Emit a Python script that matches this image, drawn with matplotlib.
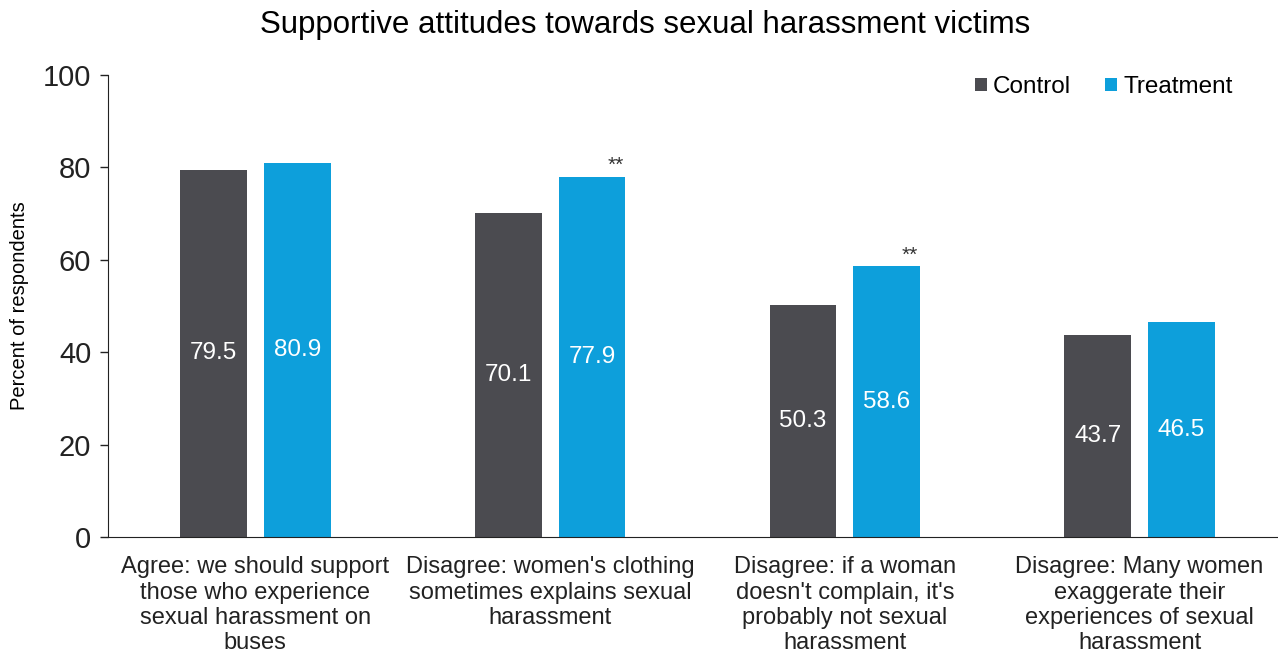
import numpy as np
import matplotlib.pyplot as plt

plt.rcParams['font.family'] = ['Liberation Sans', 'DejaVu Sans']

categories = ["Agree: we should support\nthose who experience\nsexual harassment on\nbuses",
              "Disagree: women's clothing\nsometimes explains sexual\nharassment",
              "Disagree: if a woman\ndoesn't complain, it's\nprobably not sexual\nharassment",
              "Disagree: Many women\nexaggerate their\nexperiences of sexual\nharassment"]
control = [79.5, 70.1, 50.3, 43.7]
treatment = [80.9, 77.9, 58.6, 46.5]
stars = ["", "**", "**", ""]

c_ctrl = '#4b4b50'
c_trt = '#0d9fdb'

fig = plt.figure(figsize=(12.78, 6.55), dpi=100)
ax = fig.add_axes([108/1278, 118/655, 1170/1278, 462/655])

x = np.arange(len(categories))
w = 0.227
off = 0.142
b1 = ax.bar(x - off, control, w, color=c_ctrl, label='Control')
b2 = ax.bar(x + off, treatment, w, color=c_trt, label='Treatment')

for bars in (b1, b2):
    for r in bars:
        h = r.get_height()
        ax.text(r.get_x() + r.get_width()/2, h/2, f'{h:.1f}', ha='center', va='center',
                color='white', fontsize=17.5)

for r, s in zip(b2, stars):
    if s:
        ax.text(r.get_x() + r.get_width() - 2/295, r.get_height() + 0.4, s, ha='right', va='bottom',
                fontsize=15, color='#333333')

ax.set_xlim(-0.5, 3.5 - 9/295)
ax.set_ylim(0, 100)
ax.set_yticks([0, 20, 40, 60, 80, 100])
ax.tick_params(axis='y', labelsize=21, length=6, width=1, colors='#222222', pad=6)
ax.set_xticks(x)
ax.set_xticklabels(categories, fontsize=17, linespacing=1.18)
ax.tick_params(axis='x', length=0, pad=14, colors='#222222')
for s in ('top', 'right'):
    ax.spines[s].set_visible(False)
for s in ('left', 'bottom'):
    ax.spines[s].set_color('#222222')

ax.set_ylabel('Percent of respondents', fontsize=14.5, labelpad=10)
fig.text(0.505, 0.962, 'Supportive attitudes towards sexual harassment victims',
         ha='center', va='center', fontsize=22.5)

ax.legend(loc='upper right', bbox_to_anchor=(0.98, 1.045), ncol=2, frameon=False, fontsize=17.5,
          handlelength=0.5, handleheight=0.5, handletextpad=0.25, columnspacing=1.4)

fig.savefig('out.png', dpi=100)
